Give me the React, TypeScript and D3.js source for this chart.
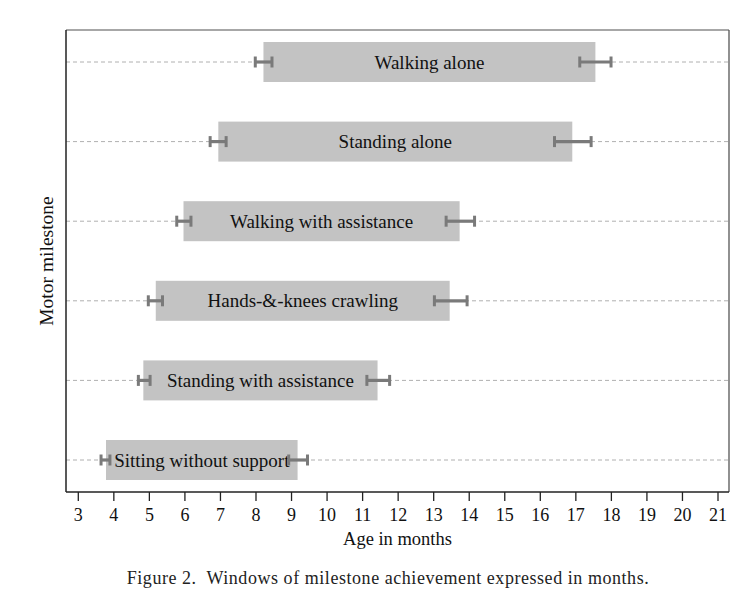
import React from "react";
import * as d3 from "d3";

const milestones = [
  "Walking alone",
  "Standing alone",
  "Walking with assistance",
  "Hands-&-knees crawling",
  "Standing with assistance",
  "Sitting without support",
];
// window start / end (bar extents, months)
const windowStart = [8.21, 6.94, 5.96, 5.18, 4.83, 3.78];
const windowEnd = [17.55, 16.9, 13.73, 13.45, 11.42, 9.17];
// confidence intervals around start and end
const startLow = [7.98, 6.71, 5.77, 4.97, 4.69, 3.64];
const startHigh = [8.45, 7.16, 6.17, 5.37, 5.02, 3.89];
const endLow = [17.11, 16.4, 13.35, 13.02, 11.12, 8.92];
const endHigh = [17.99, 17.43, 14.15, 13.94, 11.76, 9.45];
const xTicks = d3.range(3, 22);

const W = 750;
const H = 607;
const left = 66;
const right = 729;
const top = 30;
const bottom = 492;
const FONT = "'Liberation Serif', 'DejaVu Serif', serif";

export default function App() {
  const x = d3.scaleLinear().domain([3, 21]).range([78.3, 718]);
  const y = d3.scalePoint<string>().domain(milestones).range([62, 460]);
  const barH = 40;
  const capH = 11;

  return (
    <svg
      width={W}
      height={H}
      style={{ position: "absolute", left: 0, top: 0, background: "#fff" }}
      fontFamily={FONT}
    >
      {/* frame */}
      <line x1={left} x2={right} y1={top} y2={top} stroke="#8a8a8a" strokeWidth={1.3} />
      <line x1={right} x2={right} y1={top} y2={bottom} stroke="#555" strokeWidth={1.3} />
      {/* dashed grid */}
      {milestones.map((m) => (
        <line
          key={"g" + m}
          x1={left}
          x2={right}
          y1={y(m)}
          y2={y(m)}
          stroke="#b0b0b0"
          strokeWidth={1}
          strokeDasharray="4,3"
        />
      ))}
      {/* bars */}
      {milestones.map((m, i) => (
        <rect
          key={"b" + m}
          x={x(windowStart[i])}
          y={(y(m) as number) - barH / 2}
          width={x(windowEnd[i]) - x(windowStart[i])}
          height={barH}
          fill="#c3c3c3"
        />
      ))}
      {/* labels */}
      {milestones.map((m, i) => (
        <text
          key={"t" + m}
          x={(x(windowStart[i]) + x(windowEnd[i])) / 2}
          y={y(m) as number}
          dy="0.35em"
          textAnchor="middle"
          fontSize={19}
          fill="#111"
        >
          {m}
        </text>
      ))}
      {/* error bars */}
      {milestones.map((m, i) => {
        const cy = y(m) as number;
        const segs = [
          [startLow[i], startHigh[i]],
          [endLow[i], endHigh[i]],
        ];
        return (
          <g key={"e" + m} stroke="#7a7a7a">
            {segs.map(([a, b], j) => (
              <g key={j}>
                <line x1={x(a)} x2={x(b)} y1={cy} y2={cy} strokeWidth={3.2} />
                <line x1={x(a)} x2={x(a)} y1={cy - capH / 2} y2={cy + capH / 2} strokeWidth={3} />
                <line x1={x(b)} x2={x(b)} y1={cy - capH / 2} y2={cy + capH / 2} strokeWidth={3} />
              </g>
            ))}
          </g>
        );
      })}
      {/* axes */}
      <line x1={left} x2={left} y1={top} y2={bottom} stroke="#222" strokeWidth={1.5} />
      <line x1={left} x2={right} y1={bottom} y2={bottom} stroke="#222" strokeWidth={1.5} />
      {xTicks.map((t) => (
        <g key={"xt" + t}>
          <line x1={x(t)} x2={x(t)} y1={bottom} y2={bottom + 9} stroke="#222" strokeWidth={1.3} />
          <text x={x(t)} y={521} textAnchor="middle" fontSize={18} fill="#111">
            {t}
          </text>
        </g>
      ))}
      <text x={(left + right) / 2} y={545} textAnchor="middle" fontSize={18.5} fill="#111">
        Age in months
      </text>
      <text
        transform={`translate(53, ${(top + bottom) / 2}) rotate(-90)`}
        textAnchor="middle"
        fontSize={19.5}
        fill="#111"
      >
        Motor milestone
      </text>
      <text
        x={388}
        y={584}
        textAnchor="middle"
        fontSize={18}
        letterSpacing={0.55}
        fill="#222"
      >
        {"Figure 2.\u00a0 Windows of milestone achievement expressed in months."}
      </text>
    </svg>
  );
}
